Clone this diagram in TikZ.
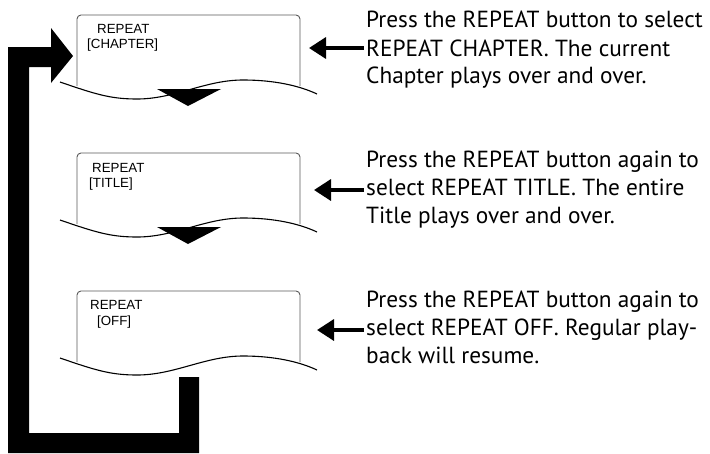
\documentclass[tikz,border=0pt]{standalone}
\usepackage{fontspec}
\setmainfont{Liberation Sans}
\newfontfamily\descfont{PT Sans}
\usetikzlibrary{arrows.meta}
\begin{document}
\begin{tikzpicture}[x=1pt,y=-1pt,
  boxline/.style={draw=black!65, line width=0.9pt, rounded corners=4pt},
  wave/.style={draw=black, line width=1.1pt},
  tri/.style={fill=black},
  lbl/.style={anchor=base west, inner sep=0pt, font=\fontsize{13.3}{15}\selectfont},
  desc/.style={anchor=base west, inner sep=0pt, font=\descfont\fontsize{23.3}{28}\selectfont},
  ptr/.style={line width=3.5pt, -{Triangle[length=17pt,width=21pt]}},
  loopbar/.style={fill=black}]
\path[use as bounding box] (0,0) rectangle (710,453);

% ---- boxes ----
\foreach \T/\tri in {15/1,153/1,291/0}{
  \draw[boxline] (77,\T+71) -- (77,\T) -- (300,\T) -- (300,\T+71);
  \draw[wave] (60,\T+67) .. controls (95,\T+79) and (110,\T+84) .. (137,\T+84)
     .. controls (175,\T+84) and (205,\T+65) .. (243,\T+65)
     .. controls (275,\T+65) and (300,\T+71) .. (317,\T+79);
  \ifnum\tri=1
    \fill[tri] (157,\T+74) -- (221,\T+74) -- (188,\T+91) -- cycle;
  \fi
}

% ---- box labels ----
\node[lbl] (b1a) at (97,33) {REPEAT};
\node[lbl] (b1b) at (87,48) {[CHAPTER]};
\node[lbl] (b2a) at (92,172) {REPEAT};
\node[lbl] (b2b) at (89,187) {[TITLE]};
\node[lbl] (b3a) at (90,309) {REPEAT};
\node[lbl] (b3b) at (97,325) {[OFF]};

% ---- loop arrow ----
\fill[loopbar] (8,453) -- (8,47) -- (51,47) -- (51,28) -- (73,56) -- (51,83)
  -- (51,67) -- (29,67) -- (29,433) -- (179,433) -- (179,377) -- (199,377)
  -- (199,453) -- cycle;

% ---- descriptions ----
\node[desc] (d1a) at (366,27) {Press the REPEAT button to select};
\node[desc] (d1b) at (366,56) {REPEAT CHAPTER. The current};
\node[desc] (d1c) at (366,83) {Chapter plays over and over.};
\node[desc] (d2a) at (366,167) {Press the REPEAT button again to};
\node[desc] (d2b) at (366,195) {select REPEAT TITLE. The entire};
\node[desc] (d2c) at (366,223) {Title plays over and over.};
\node[desc] (d3a) at (366,307) {Press the REPEAT button again to};
\node[desc] (d3b) at (366,335) {select REPEAT OFF. Regular play-};
\node[desc] (d3c) at (366,363) {back will resume.};

% ---- pointers ----
\coordinate (s1) at (364,48);  \coordinate (t1) at (309,48);
\coordinate (s2) at (364,190); \coordinate (t2) at (314,190);
\coordinate (s3) at (364,330); \coordinate (t3) at (317,330);
\draw[ptr] (s1) -- (t1);
\draw[ptr] (s2) -- (t2);
\draw[ptr] (s3) -- (t3);
\end{tikzpicture}
\end{document}
